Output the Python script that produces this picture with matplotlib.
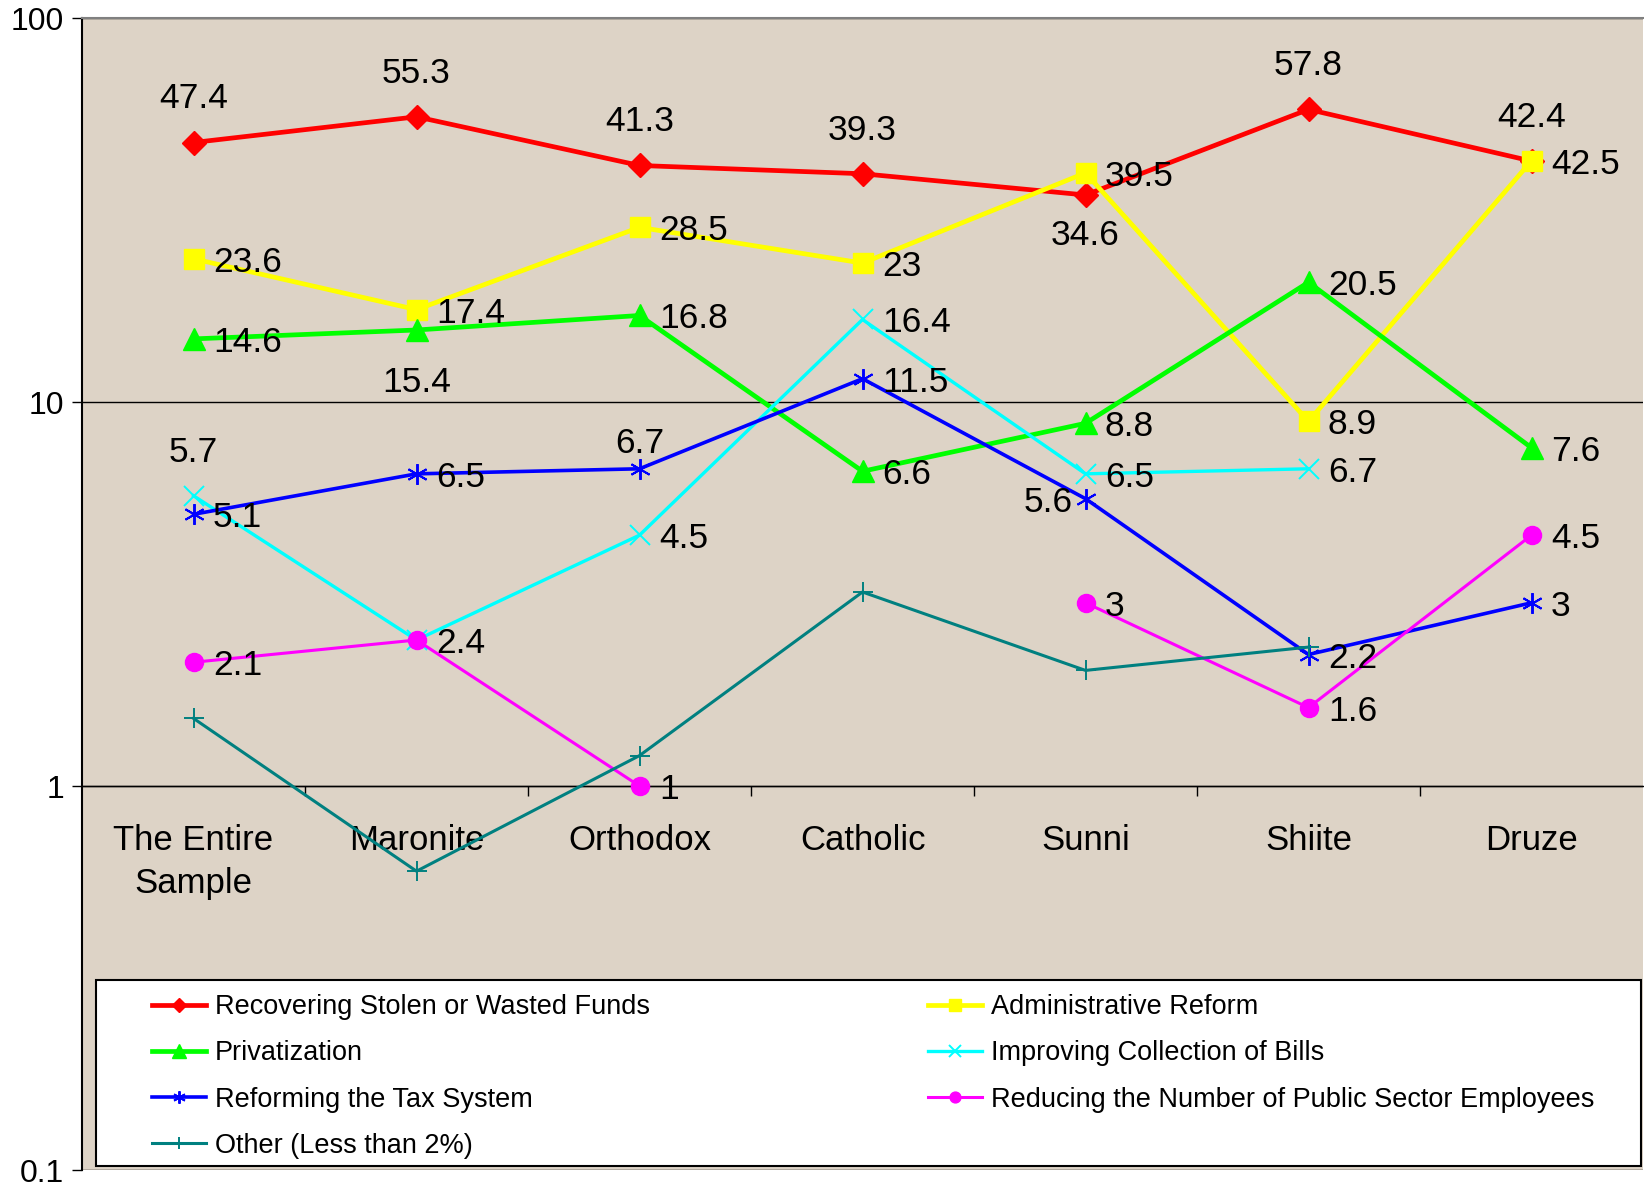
import numpy as np
import matplotlib.pyplot as plt
from matplotlib.patches import Rectangle
from matplotlib.ticker import NullLocator

plt.rcParams['font.family'] = ['Liberation Sans', 'DejaVu Sans']

# data (percent, log scale)
categories = ["The Entire\nSample", "Maronite", "Orthodox", "Catholic", "Sunni", "Shiite", "Druze"]
recovering = [47.4, 55.3, 41.3, 39.3, 34.6, 57.8, 42.4]
admin_reform = [23.6, 17.4, 28.5, 23, 39.5, 8.9, 42.5]
privatization = [14.6, 15.4, 16.8, 6.6, 8.8, 20.5, 7.6]
bills = [5.7, 2.4, 4.5, 16.4, 6.5, 6.7, np.nan]
tax_system = [5.1, 6.5, 6.7, 11.5, 5.6, 2.2, 3]
employees = [2.1, 2.4, 1, np.nan, 3, 1.6, 4.5]
other = [1.5, 0.6, 1.2, 3.2, 2.0, 2.3, np.nan]

names = ["Recovering Stolen or Wasted Funds", "Administrative Reform", "Privatization",
         "Improving Collection of Bills", "Reforming the Tax System",
         "Reducing the Number of Public Sector Employees", "Other (Less than 2%)"]

# where each value label sits relative to its point (None = no label)
label_pos = [
    ['a', 'a', 'a', 'a', 'b', 'a', 'a'],
    ['r'] * 7,
    ['r', 'b2', 'r', 'r', 'r', 'r', 'r'],
    ['a', None, 'r', 'r', 'r', 'r', None],
    ['r', 'r', 'a2', 'r', 'l', 'r', 'r'],
    ['r', 'r', 'r', None, 'r', 'r', 'r'],
    [None] * 7,
]
offsets = {'a': (0, 34, 'center'), 'a2': (0, 21, 'center'), 'b': (0, -27, 'center'),
           'b2': (0, -35, 'center'), 'r': (14, 0, 'left'), 'l': (-9, 0, 'right')}

# colour, marker, marker size, line width, marker edge width
styles = [
    ('#ff0000', 'D', 12.5, 3.4, 1),
    ('#ffff00', 's', 14, 3.4, 1),
    ('#00ff00', '^', 16, 3.4, 1),
    ('#00ffff', 'x', 14, 2.4, 1.4),
    ('#0000ff', (6, 2, 0), 15, 2.6, 1.4),
    ('#ff00ff', 'o', 13, 2.2, 1),
    ('#008080', '+', 14, 2.2, 1.4),
]

W, H = 1644, 1186
fig = plt.figure(figsize=(W / 100, H / 100), dpi=100)
ax = fig.add_axes([82 / W, 1 - 1170 / H, (1643 - 82) / W, (1170 - 18) / H])
ax.set_facecolor('#ddd3c6')
ax.set_yscale('log')
ax.set_ylim(0.1, 100)
ax.set_xlim(-0.5, 6.5)

x = np.arange(len(categories))
all_series = [recovering, admin_reform, privatization, bills, tax_system, employees, other]
lines = []
for vals, name, (c, m, ms, lw, mew), pos in zip(all_series, names, styles, label_pos):
    ln, = ax.plot(x, vals, color=c, marker=m, markersize=ms, lw=lw, mew=mew,
                  mec=c, mfc=c, label=name, zorder=3)
    lines.append(ln)
    for xi, v, p in zip(x, vals, pos):
        if p is None or np.isnan(v):
            continue
        dx, dy, ha = offsets[p]
        ax.annotate(f"{v:g}", (xi, v), xytext=(dx, dy), textcoords='offset points',
                    ha=ha, va='center_baseline', fontsize=25.5, color='black', zorder=4)

# y axis
ax.set_yticks([0.1, 1, 10, 100], labels=['0.1', '1', '10', '100'])
ax.yaxis.set_minor_locator(NullLocator())
ax.tick_params(axis='y', length=7, width=1, pad=6, labelsize=23)
ax.grid(axis='y', which='major', color='black', lw=1)
ax.set_axisbelow(True)

# category axis crosses at 1
ax.spines['bottom'].set_position(('data', 1))
ax.spines['bottom'].set_linewidth(1)
ax.set_xticks(np.arange(0.5, 6.5, 1), labels=[''] * 6)
ax.set_xticks(x, labels=categories, minor=True)
ax.tick_params(axis='x', which='major', direction='out', length=7, width=1)
ax.tick_params(axis='x', which='minor', length=0, pad=27, labelsize=25)
for t in ax.get_xticklabels(minor=True):
    t.set_linespacing(1.4)

ax.spines['left'].set_linewidth(1.5)
ax.spines['top'].set_color('#808080')
ax.spines['top'].set_linewidth(1.5)
ax.spines['right'].set_visible(False)

# legend box
fig.add_artist(Rectangle((96 / W, 1 - 1166 / H), (1641 - 96) / W, (1166 - 980) / H,
                         transform=fig.transFigure, facecolor='white',
                         edgecolor='black', lw=1.5, zorder=5))
order = [0, 2, 4, 6, 1, 3, 5]
leg = fig.legend([lines[i] for i in order], [names[i] for i in order], ncol=2,
                 loc='upper left', bbox_to_anchor=(152 / W, 1 - 994 / H),
                 frameon=False, borderpad=0, borderaxespad=0, fontsize=19.5,
                 handlelength=2.0, handletextpad=0.33, columnspacing=10.25,
                 labelspacing=0.75, markerscale=0.6)
leg.set_zorder(6)

fig.savefig('out.png', dpi=100)
